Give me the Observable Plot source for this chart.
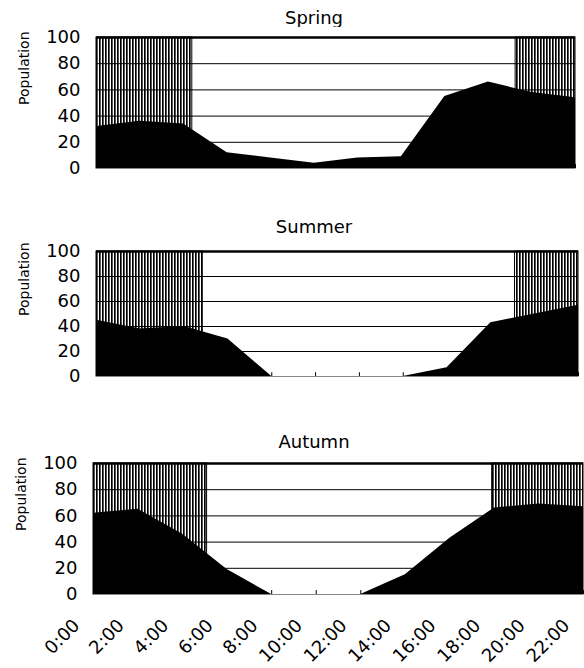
<!DOCTYPE html>
<html><head><meta charset="utf-8">
<script src="https://cdn.jsdelivr.net/npm/d3@7"></script>
<script src="https://cdn.jsdelivr.net/npm/@observablehq/plot@0.6"></script>
<style>
body{margin:0;background:#fff;}
#root{position:relative;width:584px;height:668px;overflow:hidden;font-family:"DejaVu Sans",sans-serif;}
.title{position:absolute;left:214px;width:200px;text-align:center;font-size:18px;line-height:18px;color:#000;font-family:"DejaVu Sans",sans-serif;}
.panel{position:absolute;left:0;}
.panel svg{display:block;}
</style></head><body>
<svg width="0" height="0" style="position:absolute">
  <defs>
    <pattern id="vhatch" x="0" y="0" width="3" height="4" patternUnits="userSpaceOnUse">
      <rect x="0" y="0" width="3" height="4" fill="#ffffff"></rect>
      <rect x="0" y="0" width="1" height="4" fill="#000000"></rect>
      <rect x="1" y="0" width="1" height="4" fill="#555555"></rect>
    </pattern>
  </defs>
</svg>
<div id="root"></div>
<script>
// ---- data ----
const hours = [0, 2, 4, 6, 8, 10, 12, 14, 16, 18, 20, 22];
const hourLabels = ["0:00", "2:00", "4:00", "6:00", "8:00", "10:00", "12:00", "14:00", "16:00", "18:00", "20:00", "22:00"];
const springValues = [32, 36, 34, 12, 8, 4, 8, 9, 55, 66, 58, 54];
const summerValues = [45, 38, 40, 30, 0, 0, 0, 0, 7, 43, 50, 57];
const autumnValues = [62, 65, 46, 19, 0, 0, 0, 15, 43, 66, 69, 67];
// night (dark) periods, in hours
const springNightStart = [0, 19.25];
const springNightEnd = [4.4, 22];
const summerNightStart = [0, 19.1];
const summerNightEnd = [4.85, 22];
const autumnNightStart = [0, 17.9];
const autumnNightEnd = [5.1, 22];
const yTicks = [0, 20, 40, 60, 80, 100];
const gridValues = [20, 40, 60, 80];
const seasonNames = ["Spring", "Summer", "Autumn"];
const yLabel = "Population";

const root = document.getElementById("root");

function panel(cfg) {
  const rows = hours.map((h, i) => ({hour: h, value: cfg.values[i]}));
  const nights = cfg.nightStart.map((s, i) => ({start: s, end: cfg.nightEnd[i]}));
  const t = document.createElement("div");
  t.className = "title";
  t.style.top = cfg.titleTop + "px";
  t.textContent = cfg.name;
  root.appendChild(t);

  const marks = [
    Plot.rect(nights, {x1: "start", x2: "end", y1: 0, y2: 100, fill: "url(#vhatch)", stroke: "black", strokeWidth: 1}),
    Plot.ruleY(gridValues, {stroke: "black", strokeWidth: 1}),
    Plot.areaY(rows, {x: "hour", y: "value", fill: "black"}),
    Plot.ruleY([0], {stroke: "#888", strokeWidth: 1}),
    Plot.ruleX(hours, {y1: 0, y2: 3, stroke: "black", strokeWidth: 1}),
    Plot.ruleY([100], {stroke: "black", strokeWidth: 2.5}),
    Plot.axisY({ticks: yTicks, tickSize: 0, tickPadding: 16, label: null, fontSize: 18}),
    Plot.text([yLabel], {frameAnchor: "left", rotate: -90, dx: -72, dy: 2, fontSize: 14})
  ];
  if (cfg.showX) {
    marks.push(Plot.axisX({ticks: hours, tickFormat: (d) => hourLabels[hours.indexOf(d)], tickRotate: -45, tickSize: 0, tickPadding: 18, dx: -17, dy: 10, label: null, fontSize: 18}));
  }
  const svg = Plot.plot({
    width: 584,
    height: cfg.height,
    marginTop: cfg.mt,
    marginBottom: cfg.mb,
    marginLeft: cfg.ml,
    marginRight: cfg.mr,
    style: {fontFamily: "DejaVu Sans, sans-serif", fontSize: "18px", color: "black", background: "white", overflow: "visible"},
    x: {domain: [0, 22], axis: cfg.showX ? undefined : null},
    y: {domain: [0, 100]},
    marks
  });
  const wrap = document.createElement("div");
  wrap.className = "panel";
  wrap.style.top = cfg.top + "px";
  wrap.appendChild(svg);
  root.appendChild(wrap);
}

panel({name: seasonNames[0], values: springValues, nightStart: springNightStart, nightEnd: springNightEnd,
  titleTop: 9, top: 27, height: 147, mt: 10, mb: 6, ml: 96, mr: 9, showX: false});
panel({name: seasonNames[1], values: summerValues, nightStart: summerNightStart, nightEnd: summerNightEnd,
  titleTop: 218, top: 241, height: 141, mt: 10, mb: 6, ml: 96, mr: 6, showX: false});
panel({name: seasonNames[2], values: autumnValues, nightStart: autumnNightStart, nightEnd: autumnNightEnd,
  titleTop: 433, top: 453, height: 215, mt: 10, mb: 74, ml: 93, mr: 1, showX: true});
</script>
</body></html>
